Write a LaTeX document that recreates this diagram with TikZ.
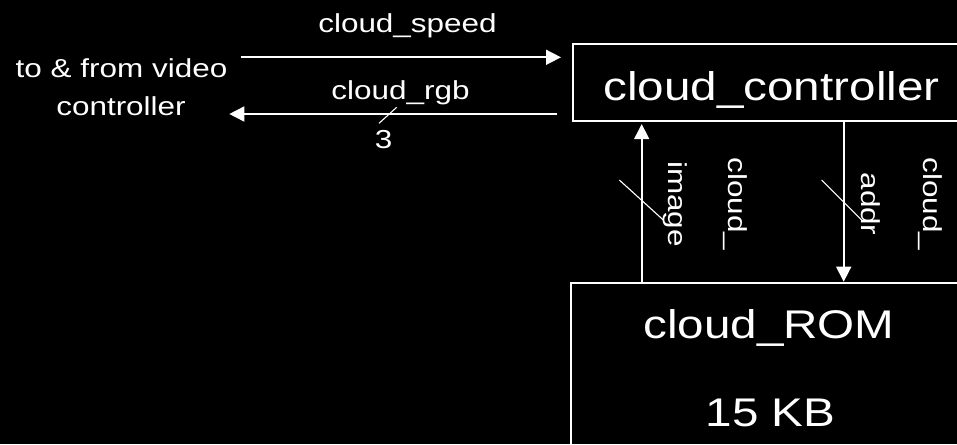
\documentclass[tikz,border=0pt]{standalone}
\usepackage{fontspec}
\setmainfont{Liberation Sans}
\usetikzlibrary{arrows.meta}

\tikzset{
  blockbox/.style={draw=white, line width=1.8pt, fill=none, rectangle,
    inner sep=0pt, minimum width=400pt, anchor=north west},
  sig/.style={draw=white, line width=1.6pt,
    -{Triangle[length=15pt, width=15pt]}},
  buswidth/.style={draw=white, line width=1.1pt},
  smalltext/.style={text=white, inner sep=0pt, anchor=base,
    font=\fontsize{26}{30}\selectfont},
  bigtext/.style={text=white, inner sep=0pt, anchor=base,
    font=\fontsize{40}{46}\selectfont},
  sidetext/.style={smalltext, rotate=-90}
}
\newcommand{\wide}[1]{\scalebox{1.21}[1]{#1}}
\newcommand{\widebig}[1]{\scalebox{1.19}[1]{#1}}

\begin{document}
\begin{tikzpicture}[x=1pt, y=-1pt]
  % canvas
  \useasboundingbox (0,0) rectangle (957,444);
  \fill[black] (0,0) rectangle (957,444);
  \clip (0,0) rectangle (957,444);

  % blocks
  \node[blockbox, minimum height=77pt] (ctrl) at (571.7,43.3) {};
  \node[blockbox, minimum height=200pt] (rom) at (570,281.7) {};

  \node[bigtext] (ctrlname) at (771.5,100.7) {\widebig{cloud\_controller}};
  \node[bigtext] (romname) at (769,338.3) {\widebig{cloud\_ROM}};
  \node[bigtext] (romsize) at (770.5,426.7) {\widebig{15 KB}};

  % video controller interface
  \node[smalltext] (vc1) at (121.5,77) {\wide{to \& from video}};
  \node[smalltext] (vc2) at (121,115) {\wide{controller}};

  \coordinate (speedsrc) at (240.7,57.3);
  \coordinate (rgbdst) at (229.3,114);
  \draw[sig, shorten >=10.7pt] (speedsrc) -- (speedsrc -| ctrl.west);
  \draw[sig, shorten <=14.7pt] (ctrl.west |- rgbdst) -- (rgbdst);

  \node[smalltext] (speedlbl) at (407.5,33) {\wide{cloud\_speed}};
  \node[smalltext] (rgblbl) at (400.5,99) {\wide{cloud\_rgb}};
  \draw[buswidth] (396.7,107.3) -- (379,123.3);
  \node[smalltext] (rgbw) at (383.5,148) {\wide{3}};

  % controller <-> ROM
  \coordinate (imgcol) at (641.7,200);
  \coordinate (addrcol) at (843.7,200);
  \draw[sig, shorten >=2pt] (imgcol |- rom.north) -- (imgcol |- ctrl.south);
  \draw[sig] (addrcol |- ctrl.south) -- (addrcol |- rom.north);

  \draw[buswidth] (619.3,180) -- (663.3,220);
  \draw[buswidth] (821.7,180) -- (861.7,220);

  \node[sidetext] (imglbl1) at (728.3,204) {\wide{cloud\_}};
  \node[sidetext] (imglbl2) at (668.3,204) {\wide{image}};
  \node[sidetext] (addrlbl1) at (923.3,204) {\wide{cloud\_}};
  \node[sidetext] (addrlbl2) at (861.7,204) {\wide{addr}};
\end{tikzpicture}
\end{document}
